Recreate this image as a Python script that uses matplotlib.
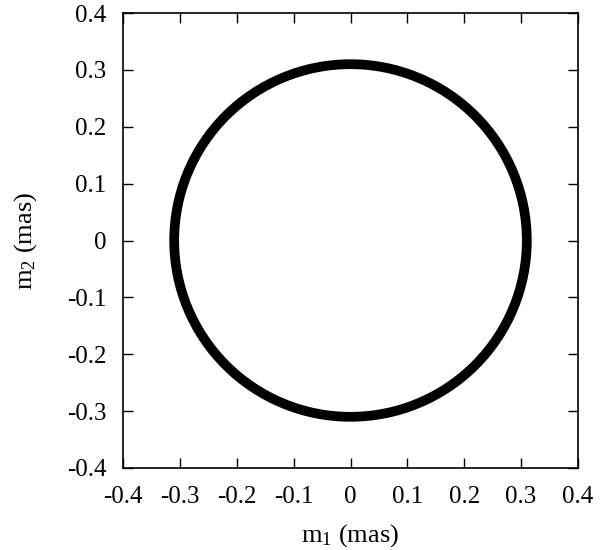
import numpy as np
import matplotlib
matplotlib.use("Agg")
import matplotlib.pyplot as plt
from matplotlib.patches import Circle

# ---------- data ----------
center = (0.0, 0.0)
radius_mas = 0.31
ticks = [-0.4, -0.3, -0.2, -0.1, 0.0, 0.1, 0.2, 0.3, 0.4]
tick_labels = ["-0.4", "-0.3", "-0.2", "-0.1", "0", "0.1", "0.2", "0.3", "0.4"]

plt.rcParams["font.family"] = ["Liberation Serif", "DejaVu Serif"]
plt.rcParams["mathtext.fontset"] = "custom"
plt.rcParams["mathtext.rm"] = "Liberation Serif"
plt.rcParams["mathtext.it"] = "Liberation Serif:italic"

fig = plt.figure(figsize=(6, 5.5), dpi=100)
ax = fig.add_axes([123 / 600, 1 - 468 / 550, 455 / 600, 455 / 550])

ring = Circle(center, radius_mas, fill=False, edgecolor="black", linewidth=7)
ax.add_patch(ring)

ax.set_xlim(-0.4, 0.4)
ax.set_ylim(-0.4, 0.4)
ax.set_xticks(ticks)
ax.set_yticks(ticks)
ax.set_xticklabels(tick_labels)
ax.set_yticklabels(tick_labels)
ax.tick_params(direction="in", length=7, width=1, labelsize=18,
               top=True, right=True)
ax.tick_params(axis="x", pad=13)
ax.tick_params(axis="y", pad=12)
for s in ax.spines.values():
    s.set_linewidth(1.2)

ax.set_xlabel(r"$\mathrm{m}_1$ (mas)", fontsize=19, labelpad=10)
ax.set_ylabel(r"$\mathrm{m}_2$ (mas)", fontsize=19, labelpad=20)

fig.savefig("out.png", dpi=100)
